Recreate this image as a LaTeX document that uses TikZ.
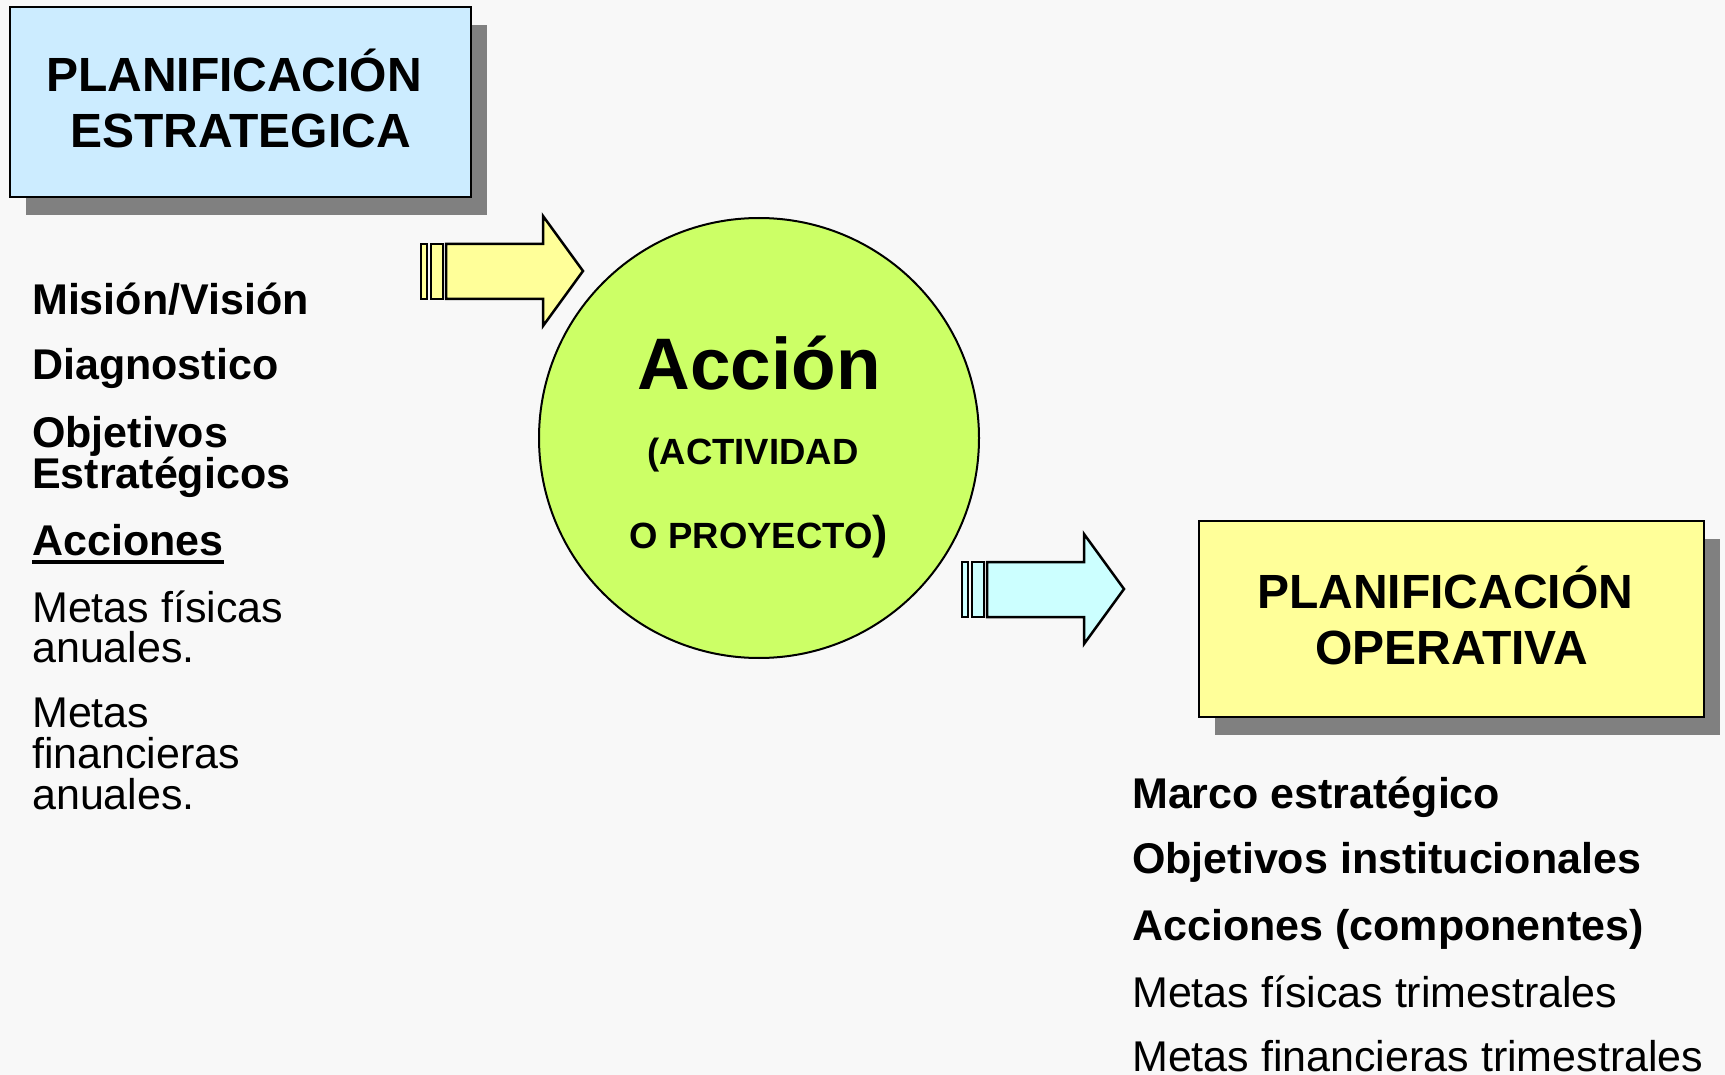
\documentclass[tikz,border=0pt]{standalone}
\usepackage{fontspec}
\setmainfont{Liberation Sans}
\usetikzlibrary{shadows}

\definecolor{fondo}{HTML}{F8F8F8}
\definecolor{cajaazul}{HTML}{CCECFF}
\definecolor{cajaamarilla}{HTML}{FFFF99}
\definecolor{circuloverde}{HTML}{CCFF66}
\definecolor{flechaceleste}{HTML}{CCFFFF}
\definecolor{sombra}{HTML}{808080}

\tikzset{
  caja/.style={draw, line width=2.5pt, align=center, inner sep=0pt, text depth=8pt,
    font=\bfseries\fontsize{48}{56}\selectfont,
    drop shadow={shadow xshift=16pt, shadow yshift=-18pt, fill=sombra, opacity=1}},
  item/.style={anchor=base west, inner sep=0pt, font=\bfseries\fontsize{43}{41}\selectfont},
  itemfino/.style={anchor=base west, inner sep=0pt, font=\fontsize{43}{41}\selectfont},
  flechaline/.style={draw, line width=2.5pt, line join=miter},
  pics/flecha/.style={code={
    \draw[flechaline, fill=#1] (0,-27) rectangle (6,28);
    \draw[flechaline, fill=#1] (10,-27) rectangle (22,28);
    \draw[flechaline, fill=#1] (25,-27) -- (122,-27) -- (122,-55) -- (162,0)
      -- (122,55) -- (122,28) -- (25,28) -- cycle;
  }}
}

\begin{document}
\begin{tikzpicture}[x=1pt, y=-1pt]
        \fill[fondo] (0,0) rectangle (1725,1075);
        \useasboundingbox (0,0) rectangle (1725,1075);

        % cajas
        \node[caja, fill=cajaazul, minimum width=461pt, minimum height=190pt] (estrategica) at (240.5,102) {PLANIFICACIÓN\kern13pt\\ESTRATEGICA};
        \node[caja, fill=cajaamarilla, minimum width=505pt, minimum height=196pt] (operativa) at (1451.5,619) {PLANIFICACIÓN\kern13pt\\OPERATIVA};

        % circulo
        \node[circle, draw, line width=2pt, fill=circuloverde, minimum size=440pt, inner sep=0pt] (accion) at (759,438) {};
        \node[anchor=base, inner sep=0pt, font=\bfseries\fontsize{73}{73}\selectfont] (acciontxt) at (759,390) {Acción};
        \node[anchor=base, inner sep=0pt, font=\bfseries\fontsize{36.5}{36.5}\selectfont] (actividad) at (753,464) {(ACTIVIDAD};
        \node[anchor=base, inner sep=0pt, font=\bfseries\fontsize{36.5}{36.5}\selectfont] (proyecto) at (759,548) {O PROYECTO{\fontsize{46}{46}\selectfont)}};

        % flechas
        \pic at (421,271) {flecha=cajaamarilla};
        \pic at (962,589) {flecha=flechaceleste};

        % lista izquierda
        \node[item] (mision) at (32,315) {Misión/Visión};
        \node[item] (diagnostico) at (32,380) {Diagnostico};
        \node[item] (objetivos) at (32,447) {Objetivos};
        \node[item] (estrategicos) at (32,488) {Estratégicos};
        \node[item] (acciones) at (32,555) {Acciones};
        \draw[line width=3.5pt] ([yshift=-7pt]acciones.base west) -- ([yshift=-7pt]acciones.base east);
        \node[itemfino] (metasfis) at (32,622) {Metas físicas};
        \node[itemfino] (metasfis2) at (32,662) {anuales.};
        \node[itemfino] (metasfin) at (32,727) {Metas};
        \node[itemfino] (metasfin2) at (32,768) {financieras};
        \node[itemfino] (metasfin3) at (32,809) {anuales.};

        % lista derecha
        \node[item] (marco) at (1132,808) {Marco estratégico};
        \node[item] (objinst) at (1132,873) {Objetivos institucionales};
        \node[item] (componentes) at (1132,940) {Acciones (componentes)};
        \node[itemfino] (metastrim) at (1132,1007) {Metas físicas trimestrales};
        \node[itemfino] (metasfintrim) at (1132,1071) {Metas financieras trimestrales};

      \end{tikzpicture}
\end{document}
